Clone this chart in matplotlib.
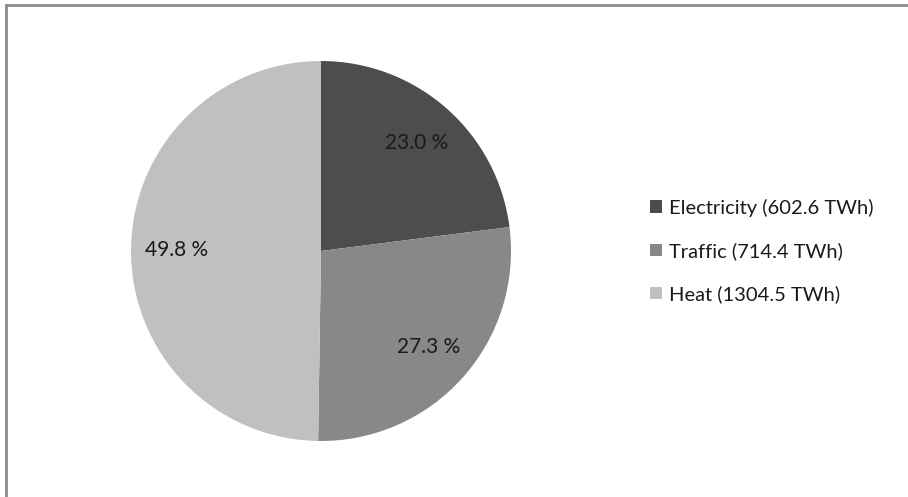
import matplotlib.pyplot as plt
from matplotlib.patches import Patch
from matplotlib.lines import Line2D

labels = ['Electricity (602.6 TWh)', 'Traffic (714.4 TWh)', 'Heat (1304.5 TWh)']
values = [602.6, 714.4, 1304.5]
colors = ['#4d4d4d', '#888888', '#c0c0c0']

plt.rcParams['font.family'] = ['Lato', 'DejaVu Sans']

W, H = 908, 497
fig = plt.figure(figsize=(W / 100, H / 100), dpi=100)

# frame lines (top and left only)
fig.add_artist(Line2D([5.5 / W, 1], [1 - 4.5 / H, 1 - 4.5 / H], color='#8c8c8c', lw=2))
fig.add_artist(Line2D([5.5 / W, 5.5 / W], [0, 1 - 4.5 / H], color='#8c8c8c', lw=2))

cx, cy, r = 321, 251, 190
ax = fig.add_axes([(cx - r) / W, (H - cy - r) / H, 2 * r / W, 2 * r / H])
wedges, texts, autotexts = ax.pie(values, colors=colors, startangle=90, counterclock=False,
                                  autopct=lambda p: f'{p:.1f} %', pctdistance=0.76,
                                  textprops={'fontsize': 15, 'color': '#1a1a1a'})
ax.set_aspect('equal')
ax.set_xlim(-1, 1)
ax.set_ylim(-1, 1)

handles = [Patch(facecolor=c, edgecolor='none') for c in colors]
fig.legend(handles, labels, loc='center left', bbox_to_anchor=(632 / W, 1 - 251 / H),
           frameon=False, fontsize=14.5, handlelength=0.6, handleheight=0.6,
           handletextpad=0.35, labelspacing=1.25, labelcolor='#1a1a1a')

fig.savefig('out.png', dpi=100)
